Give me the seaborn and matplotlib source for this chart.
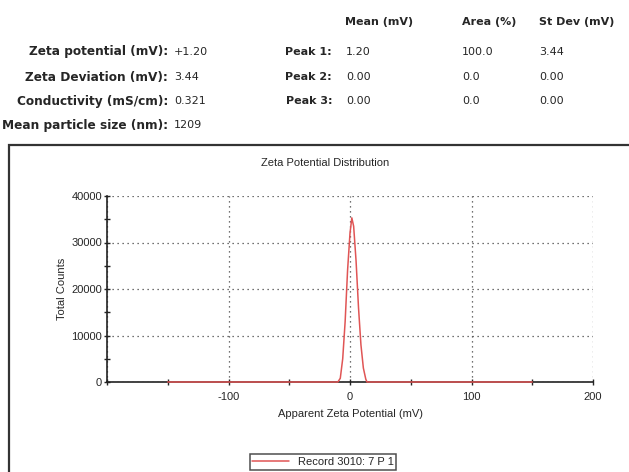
import matplotlib
matplotlib.use("Agg")
import matplotlib.pyplot as plt
from matplotlib.patches import Rectangle
from matplotlib.ticker import MultipleLocator
import pandas as pd
import seaborn as sns

# zeta potential distribution
zeta_mv = [-150, -10, -8, -6, -4, -2, 0, 1.5, 3, 5, 7, 9, 11, 13, 14, 150]
counts = [0, 0, 800, 5000, 13000, 24000, 32000, 35300, 33500, 26000, 16000, 8000, 3000, 600, 0, 0]

summary_labels = ["Zeta potential (mV):", "Zeta Deviation (mV):", "Conductivity (mS/cm):", "Mean particle size (nm):"]
summary_values = ["+1.20", "3.44", "0.321", "1209"]

peak_labels = ["Peak 1:", "Peak 2:", "Peak 3:"]
peak_mean = ["1.20", "0.00", "0.00"]
peak_area = ["100.0", "0.0", "0.0"]
peak_sd = ["3.44", "0.00", "0.00"]
peak_headers = ["Mean (mV)", "Area (%)", "St Dev (mV)"]

df = pd.DataFrame({"zeta": zeta_mv, "counts": counts})

sns.set_style("white")
plt.rcParams["font.family"] = ["Liberation Sans", "DejaVu Sans"]

W, H = 629, 472
fig = plt.figure(figsize=(W / 100, H / 100), dpi=100)


def fx(px):
    return px / W


def fy(py):
    return 1 - py / H


hdr_font = ["DejaVu Sans"]

# header table
for txt, x in zip(peak_headers, [345, 462, 539]):
    fig.text(fx(x), fy(22), txt, fontsize=8, fontweight="bold", va="center", ha="left", family=hdr_font)

rows_y = [52, 77, 101, 125]
for i, (lab, val) in enumerate(zip(summary_labels, summary_values)):
    fig.text(fx(168), fy(rows_y[i]), lab, fontsize=8.7, fontweight="bold", va="center", ha="right", family=hdr_font)
    fig.text(fx(174), fy(rows_y[i]), val, fontsize=8, va="center", ha="left", family=hdr_font)

for i, lab in enumerate(peak_labels):
    y = fy(rows_y[i])
    fig.text(fx(332), y, lab, fontsize=8, fontweight="bold", va="center", ha="right", family=hdr_font)
    fig.text(fx(346), y, peak_mean[i], fontsize=8, va="center", ha="left", family=hdr_font)
    fig.text(fx(462), y, peak_area[i], fontsize=8, va="center", ha="left", family=hdr_font)
    fig.text(fx(539), y, peak_sd[i], fontsize=8, va="center", ha="left", family=hdr_font)

# frame around the chart region
fig.patches.append(Rectangle((fx(9), -0.05), 1.1, fy(145) + 0.05, transform=fig.transFigure,
                             fill=False, edgecolor="#333333", linewidth=1.6))

ax = fig.add_axes([fx(107), fy(382), fx(593) - fx(107), fy(196) - fy(382)])
sns.lineplot(data=df, x="zeta", y="counts", ax=ax, color="#e05555", linewidth=1.1,
             label="Record 3010: 7 P 1", zorder=3, clip_on=False)

ax.set_xlim(-200, 200)
ax.set_ylim(0, 40000)
ax.xaxis.set_major_locator(MultipleLocator(100))
ax.xaxis.set_minor_locator(MultipleLocator(50))
ax.yaxis.set_major_locator(MultipleLocator(10000))
ax.yaxis.set_minor_locator(MultipleLocator(5000))
ax.tick_params(which="both", direction="inout", length=4, width=1, labelsize=8,
               bottom=True, left=True)
ax.tick_params(axis="x", pad=5)
ax.tick_params(axis="y", pad=1.5)
ax.set_xticks([-200, -100, 0, 100, 200])
ax.set_xticklabels(["", "-100", "0", "100", "200"])
ax.grid(True, which="major", color="#444444", linestyle=(0, (1, 3)), linewidth=0.9)
for s in ["top", "right"]:
    ax.spines[s].set_visible(False)
for s in ["left", "bottom"]:
    ax.spines[s].set_color("#222222")
    ax.spines[s].set_linewidth(1.2)

ax.set_xlabel("Apparent Zeta Potential (mV)", fontsize=8, labelpad=5)
ax.set_ylabel("Total Counts", fontsize=8, labelpad=3)
fig.text(fx(325), fy(163), "Zeta Potential Distribution", fontsize=8, ha="center", va="center")

leg = ax.legend(loc="center", bbox_to_anchor=(fx(323), fy(462)), bbox_transform=fig.transFigure,
                fontsize=8, frameon=True, fancybox=False, handlelength=3.3,
                borderpad=0.25, edgecolor="#222222")
leg.get_frame().set_linewidth(1.1)

fig.savefig("out.png", dpi=100)
